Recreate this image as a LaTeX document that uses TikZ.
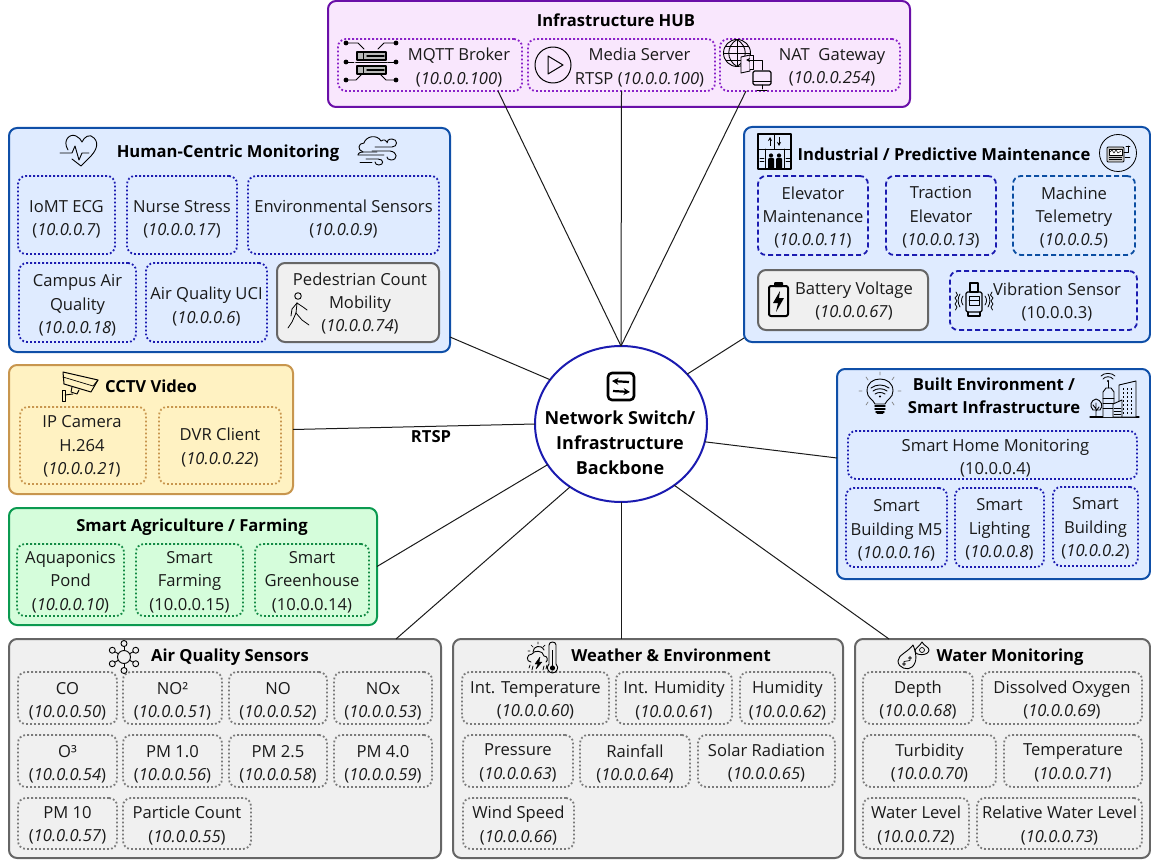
\documentclass[tikz,border=0pt]{standalone}
\usepackage{fontspec}
\setmainfont{Open Sans}
\usetikzlibrary{calc,arrows.meta,shapes.geometric}
\definecolor{purF}{HTML}{F9E7FD}\definecolor{purD}{HTML}{6A0FA8}\definecolor{purS}{HTML}{8A22C8}
\definecolor{bluF}{HTML}{DFEBFF}\definecolor{bluD}{HTML}{0F4FA8}\definecolor{bluS}{HTML}{1B1BB0}\definecolor{bluT}{HTML}{0B4EA2}
\definecolor{gryF}{HTML}{F0F0F0}\definecolor{gryD}{HTML}{666666}\definecolor{gryS}{HTML}{7A7A7A}
\definecolor{yelF}{HTML}{FFF2C2}\definecolor{yelD}{HTML}{C8964E}
\definecolor{grnF}{HTML}{D5FDDB}\definecolor{grnD}{HTML}{0B9A50}\definecolor{grnS}{HTML}{128A44}
\definecolor{ink}{HTML}{1A1A1A}
\tikzset{
 x=1pt,y=-1pt,
 area/.style={rectangle,rounded corners=8pt,inner sep=0pt,outer sep=0pt,line width=2pt},
 unit/.style={rectangle,rounded corners=8pt,inner sep=0pt,outer sep=0pt},
 dots/.style={unit,line width=1.8pt,dash pattern=on 1.8pt off 2.2pt},
 dashes/.style={unit,line width=1.8pt,dash pattern=on 5pt off 3pt},
 solidgray/.style={unit,line width=2pt,draw=gryD,fill=gryF},
 txt/.style={align=center,inner sep=0pt,text=ink,font=\fontsize{16.6}{23.3}\selectfont},
 ttl/.style={align=center,inner sep=0pt,text=black,font=\fontsize{16.6}{23.3}\selectfont\bfseries},
 link/.style={draw=ink,line width=1pt},
 ic/.style={draw=black,line width=.9pt,line join=round,line cap=round},
}
\newcommand{\ip}[1]{(\textit{#1})}
\newcommand{\boxnode}[6]{%
 \pgfmathsetmacro\bw{#5-#3}\pgfmathsetmacro\bh{#6-#4}%
 \node[#1,minimum width=\bw pt,minimum height=\bh pt] (#2) at ({(#3+#5)/2},{(#4+#6)/2}) {};}
\newcommand{\subbox}[9]{%
 \boxnode{#1}{#2}{#3}{#4}{#5}{#6}%
 \node[txt] (#2t) at ($(#2.center)+(#7,#8+2)$) {#9};}
\begin{document}
\begin{tikzpicture}
\useasboundingbox (0,0) rectangle (1151,861);
% ---------- areas
\boxnode{area,draw=purD,fill=purF}{hub}{328}{1}{910}{107}
\boxnode{area,draw=bluD,fill=bluF}{human}{9}{128}{450}{352}
\boxnode{area,draw=bluD,fill=bluF}{industrial}{744}{127}{1150}{342}
\boxnode{area,draw=bluD,fill=bluF}{built}{837}{369}{1150}{579}
\boxnode{area,draw=yelD,fill=yelF}{cctv}{9}{365}{293}{494}
\boxnode{area,draw=grnD,fill=grnF}{agri}{9}{508}{377}{625}
\boxnode{area,draw=gryD,fill=gryF}{air}{9}{639}{441}{858}
\boxnode{area,draw=gryD,fill=gryF}{weather}{453}{639}{843}{858}
\boxnode{area,draw=gryD,fill=gryF}{water}{855}{639}{1150}{858}
% ---------- titles
\node[ttl] (hubT) at (616,20) {Infrastructure HUB};
\node[ttl] (humanT) at (228,153) {Human-Centric Monitoring};
\node[ttl] (industrialT) at (944,154) {Industrial / Predictive Maintenance};
\node[ttl] (builtT) at (994,396) {Built Environment /\\Smart Infrastructure};
\node[ttl] (cctvT) at (151,386) {CCTV Video};
\node[ttl] (agriT) at (192,527) {Smart Agriculture / Farming};
\node[ttl] (airT) at (230,657) {Air Quality Sensors};
\node[ttl] (weatherT) at (671,655) {Weather \& Environment};
\node[ttl] (waterT) at (1010,657) {Water Monitoring};
% ---------- hub
\subbox{dots,draw=purS}{mqtt}{338}{39}{522}{91}{29}{0.5}{MQTT Broker\\\ip{10.0.0.100}}
\subbox{dots,draw=purS}{media}{528}{39}{715}{91}{18}{0.5}{Media Server\\RTSP \ip{10.0.0.100}}
\subbox{dots,draw=purS}{nat}{720}{39}{900}{91}{22}{0.5}{NAT\ \ Gateway\\\ip{10.0.0.254}}
% ---------- human
\subbox{dots,draw=bluS}{ecg}{18}{176}{115}{254}{0}{2}{IoMT ECG\\\ip{10.0.0.7}}
\subbox{dots,draw=bluS}{nurse}{127}{176}{237}{254}{0}{2}{Nurse Stress\\\ip{10.0.0.17}}
\subbox{dots,draw=bluS}{envs}{248}{176}{439}{254}{0}{2}{Environmental Sensors\\\ip{10.0.0.9}}
\subbox{dots,draw=bluS}{campus}{19}{263}{136}{342}{0}{1}{Campus Air\\Quality\\\ip{10.0.0.18}}
\subbox{dots,draw=bluS}{uci}{146}{263}{267}{342}{0}{2}{Air Quality UCI\\\ip{10.0.0.6}}
\subbox{solidgray}{pedestrian}{277}{263}{439}{342}{2}{-1}{Pedestrian Count\\Mobility\\\ip{10.0.0.74}}
% ---------- industrial
\subbox{dashes,draw=bluS}{elevator}{758}{176}{868}{255}{0}{0}{Elevator\\Maintenance\\\ip{10.0.0.11}}
\subbox{dashes,draw=bluS}{traction}{886}{176}{996}{255}{0}{0}{Traction\\Elevator\\\ip{10.0.0.13}}
\subbox{dashes,draw=bluT}{machine}{1013}{176}{1135}{255}{0}{0}{Machine\\Telemetry\\\ip{10.0.0.5}}
\subbox{solidgray}{battery}{758}{270}{928}{330}{11}{-1}{Battery Voltage\\\ip{10.0.0.67}}
\subbox{dashes,draw=bluS}{vibration}{950}{271}{1137}{330}{13.5}{-0.5}{Vibration Sensor\\(10.0.0.3)}
% ---------- built
\subbox{dots,draw=bluS}{home}{848}{431}{1137}{479}{3}{1}{Smart Home Monitoring\\(10.0.0.4)}
\subbox{dots,draw=bluS}{m5}{846}{488}{947}{567}{0}{1}{Smart\\Building M5\\\ip{10.0.0.16}}
\subbox{dots,draw=bluS}{lighting}{955}{488}{1044}{567}{0}{0}{Smart\\Lighting\\\ip{10.0.0.8}}
\subbox{dots,draw=bluS}{building}{1053}{487}{1138}{566}{0}{0}{Smart\\Building\\\ip{10.0.0.2}}
% ---------- cctv
\subbox{dots,draw=yelD}{ipcam}{20}{407}{146}{484}{-1}{-1}{IP Camera\\H.264\\\ip{10.0.0.21}}
\subbox{dots,draw=yelD}{dvr}{159}{407}{281}{484}{0}{0}{DVR Client\\\ip{10.0.0.22}}
% ---------- agri
\subbox{dots,draw=grnS}{pond}{17}{544}{124}{616}{0}{0}{Aquaponics\\Pond\\\ip{10.0.0.10}}
\subbox{dots,draw=grnS}{farming}{136}{544}{243}{616}{0}{0}{Smart\\Farming\\(10.0.0.15)}
\subbox{dots,draw=grnS}{greenhouse}{255}{544}{369}{616}{0}{0}{Smart\\Greenhouse\\(10.0.0.14)}
% ---------- air
\subbox{dots,draw=gryS}{co}{18}{672}{117}{724}{0}{1}{CO\\\ip{10.0.0.50}}
\subbox{dots,draw=gryS}{notwo}{123}{672}{222}{724}{0}{1}{NO²\\\ip{10.0.0.51}}
\subbox{dots,draw=gryS}{no}{229}{672}{327}{724}{0}{1}{NO\\\ip{10.0.0.52}}
\subbox{dots,draw=gryS}{nox}{334}{672}{432}{724}{0}{1}{NOx\\\ip{10.0.0.53}}
\subbox{dots,draw=gryS}{othree}{18}{735}{117}{787}{0}{1}{O³\\\ip{10.0.0.54}}
\subbox{dots,draw=gryS}{pmone}{123}{735}{222}{787}{0}{1}{PM 1.0\\\ip{10.0.0.56}}
\subbox{dots,draw=gryS}{pmtwo}{229}{735}{327}{787}{0}{1}{PM 2.5\\\ip{10.0.0.58}}
\subbox{dots,draw=gryS}{pmfour}{334}{735}{432}{787}{0}{1}{PM 4.0\\\ip{10.0.0.59}}
\subbox{dots,draw=gryS}{pmten}{18}{798}{117}{849}{0}{0}{PM 10\\\ip{10.0.0.57}}
\subbox{dots,draw=gryS}{particle}{123}{798}{251}{849}{0}{0}{Particle Count\\\ip{10.0.0.55}}
% ---------- weather
\subbox{dots,draw=gryS}{inttemp}{462}{672}{609}{724}{0}{0.5}{Int. Temperature\\\ip{10.0.0.60}}
\subbox{dots,draw=gryS}{inthum}{616}{672}{732}{724}{0}{0.5}{Int. Humidity\\\ip{10.0.0.61}}
\subbox{dots,draw=gryS}{humidity}{740}{672}{835}{724}{0}{0.5}{Humidity\\\ip{10.0.0.62}}
\subbox{dots,draw=gryS}{pressure}{463}{735}{573}{787}{0}{0}{Pressure\\\ip{10.0.0.63}}
\subbox{dots,draw=gryS}{rainfall}{580}{735}{690}{787}{0}{1}{Rainfall\\\ip{10.0.0.64}}
\subbox{dots,draw=gryS}{solar}{698}{735}{835}{787}{0}{0}{Solar Radiation\\\ip{10.0.0.65}}
\subbox{dots,draw=gryS}{wind}{463}{798}{574}{849}{0}{0}{Wind Speed\\\ip{10.0.0.66}}
% ---------- water
\subbox{dots,draw=gryS}{depth}{863}{672}{973}{724}{0}{0}{Depth\\\ip{10.0.0.68}}
\subbox{dots,draw=gryS}{oxygen}{982}{672}{1142}{724}{0}{0}{Dissolved Oxygen\\\ip{10.0.0.69}}
\subbox{dots,draw=gryS}{turbidity}{863}{735}{996}{787}{0}{0}{Turbidity\\\ip{10.0.0.70}}
\subbox{dots,draw=gryS}{temperature}{1004}{735}{1142}{787}{0}{0}{Temperature\\\ip{10.0.0.71}}
\subbox{dots,draw=gryS}{level}{863}{798}{969}{849}{0}{0}{Water Level\\\ip{10.0.0.72}}
\subbox{dots,draw=gryS}{relative}{977}{798}{1142}{849}{0}{0}{Relative Water Level\\\ip{10.0.0.73}}
% ---------- switch
\node[ellipse,draw=bluS,fill=white,line width=2pt,inner sep=0pt,outer sep=0pt,minimum width=172pt,minimum height=156pt] (switch) at (621,424) {};
\node[ttl,font=\fontsize{18}{25}\selectfont\bfseries] (switchT) at (620,443) {Network Switch/\\Infrastructure\\Backbone};
% ---------- connectors
\draw[link] (498,0 |- mqtt.south) -- (switch.north);
\draw[link] (media.south) -- (switch.north);
\draw[link] (746,0 |- nat.south) -- (switch.north);
\draw[link] (human.east |- 0,337) -- (switch.148);
\draw[link] (industrial.west |- 0,338) -- (switch.37);
\draw[link] (built.west |- 0,458) -- (switch.-12.5);
\draw[link] (889,0 |- water.north) -- (switch.-49);
\draw[link] (621,0 |- weather.north) -- (switch.south);
\draw[link] (396,0 |- air.north) -- (switch.231.5);
\draw[link] (agri.east) -- (switch.209.6);
\draw[link] (cctv.east) -- (switch.west);
\node[ttl] (rtsp) at (431,437) {RTSP};
% ---------- icons
% switch
\draw[ic,line width=2.6pt,rounded corners=4pt] (608,373) rectangle (634,400);
\draw[line width=2.2pt,-{Stealth[length=6.5pt,width=7pt]}] (629,382) -- (612,381);
\draw[line width=2.2pt,-{Stealth[length=6.5pt,width=7pt]}] (613,391) -- (630,392);
% mqtt
\foreach \p in {(346,43),(396,43),(346,62),(396,62),(346,80),(396,80)} \fill \p circle[radius=2.4];
\draw[ic] (346,43)--(358,43)--(364,49); \draw[ic] (396,43)--(384,43)--(378,49);
\draw[ic] (346,80)--(356,80)--(362,74); \draw[ic] (396,80)--(386,80)--(380,74);
\draw[ic] (346,62)--(354,62); \draw[ic] (388,62)--(396,62);
\draw[ic,fill=gray!55,line width=1.1pt] (357,52) rectangle (386,60);
\draw[ic,fill=gray!55,line width=1.1pt] (357,66) rectangle (386,74);
\draw[ic,line width=1.6pt] (356,62.5)--(387,62.5);
\draw[ic] (363,53)--(363,59); \draw[ic] (363,67)--(363,73);
\draw[ic,line width=1.4pt] (367,56)--(384,56); \draw[ic,line width=1.4pt] (367,70)--(384,70);
% play
\draw[ic,line width=1pt] (553,65) circle[radius=18];
\draw[ic,line width=1pt] (548,56) -- (563,65) -- (548,74) -- cycle;
% nat
\draw[ic] (737,53) circle[radius=13.5];
\draw[ic] (724,53)--(750,53) (726,46)--(748,46) (726,60)--(748,60) (737,39.5)--(737,66.5);
\draw[ic] (737,39.5) .. controls (726,46) and (726,60) .. (737,66.5);
\draw[ic] (737,39.5) .. controls (748,46) and (748,60) .. (737,66.5);
\draw[ic,fill=purF] (741,57) -- (750,55) -- (750,71) -- (741,73) -- cycle;
\draw[ic,fill=purF] (750,55) -- (753,55) -- (753,69) -- (750,69);
\draw[ic,-{Stealth[length=4pt,width=4pt]}] (762,70) -- (762,60) -- (746,60);
\draw[ic,rounded corners=1.5pt,fill=purF,line width=1.1pt] (753,71) rectangle (771,85);
\draw[ic] (753,81)--(771,81) (762,85)--(762,89) (757,90)--(767,90);
% heart
\draw[ic] (68,150) .. controls (62,140) and (70,133) .. (76,136) .. controls (79,137) and (81,140) .. (82,142) .. controls (84,137) and (90,133) .. (94,138) .. controls (100,144) and (95,152) .. (90,157) -- (81,166) -- (72,159);
\draw[ic] (60,153) -- (72,153) -- (75,146) -- (79,160) -- (82,153) -- (89,153);
% cloud wind
\draw[ic] (363,152) .. controls (357,150) and (358,143) .. (364,143) .. controls (366,136) and (377,134) .. (381,141) .. controls (384,139) and (386,140) .. (387,142);
\draw[ic] (358,155) .. controls (358,155) and (358,152) .. (363,152) -- (377,152);
\draw[ic] (375,147)--(392,147) .. controls (398,147) and (398,139) .. (392,139) .. controls (388,139) and (387,141) .. (387,143);
\draw[ic] (372,151)--(390,151) .. controls (398,152) and (398,160) .. (391,160) .. controls (388,160) and (387,158) .. (387,157);
\draw[ic] (358,155)--(384,155) (366,159)--(378,159) .. controls (384,159) and (384,165) .. (379,165) .. controls (377,165) and (375,164) .. (375,162);
\draw[ic] (360,162)--(372,162);
% walker
\draw[ic] (298,296) circle[radius=3.3];
\begin{scope}[line width=.8pt,double=gryF,double distance=2.8pt,line cap=round,line join=round]
\draw (296,313) -- (292,322) -- (288,328);
\draw (297,303) -- (292,309) -- (291,316);
\draw (296,313) -- (302,320) -- (309,325);
\draw (297,303) -- (303,307) -- (307,310);
\draw (297,303) -- (296,313);
\end{scope}
% elevator
\draw[ic,line width=1.2pt] (758,134) rectangle (791,169);
\draw[ic] (758,149)--(791,149) (765,149)--(765,169) (784,149)--(784,169) (774.5,134)--(774.5,149);
\draw[line width=1pt,-{Stealth[length=4pt,width=4pt]}] (770,146)--(770,137);
\draw[line width=1pt,-{Stealth[length=4pt,width=4pt]}] (779,137)--(779,146);
\foreach \q in {771,779}{\fill (\q,155.5) circle[radius=2.1]; \fill[rounded corners=1pt] (\q-3,158) rectangle (\q+3,169);}
\draw[ic] (760,158)--(764,158) (760,161)--(764,161) (786,158)--(790,158) (786,161)--(790,161);
% machine
\draw[ic,line width=.8pt] (1118,153) circle[radius=18.5];
\draw[ic,fill=gray!45,rounded corners=1pt] (1107,147) rectangle (1124,162);
\draw[ic,fill=white,line width=.5pt] (1109,149) rectangle (1122,155);
\draw[line width=.5pt] (1110,152)--(1112,150)--(1114,153)--(1116,150)--(1118,153)--(1121,151);
\draw[line width=.7pt] (1109,157)--(1122,157) (1109,159.5)--(1122,159.5);
\draw[ic,line width=.8pt] (1124,152)--(1128,152)--(1128,146) (1126,146)--(1130,146) (1125,157)--(1130,157);
% battery
\fill[rounded corners=1pt] (774,282) rectangle (783,287);
\draw[ic,line width=2pt,rounded corners=2pt] (769,286) rectangle (788,316);
\fill (780,291)--(773,303)--(778,303)--(776,312)--(784,298)--(779,298)--cycle;
% vibration
\draw[ic,line width=1.1pt] (970,283) rectangle (978,292);
\draw[ic,line width=1.1pt,rounded corners=1.5pt] (966,292) rectangle (982,312);
\draw[ic,line width=1pt] (969,296) rectangle (979,305) (969,300)--(979,300);
\draw[ic,line width=1.2pt] (968,312)--(968,316)--(980,316)--(980,312);
\foreach \s in {1,-1}{
 \draw[ic,line width=.8pt] ({974+\s*11},296) .. controls ({974+\s*13},299) and ({974+\s*13},302) .. ({974+\s*11},305);
 \draw[ic,line width=.8pt] ({974+\s*14},294) .. controls ({974+\s*16.5},298) and ({974+\s*16.5},303) .. ({974+\s*14},307);
 \draw[ic,line width=.8pt] ({974+\s*18},292) -- ({974+\s*16.5},295) -- ({974+\s*19},298) -- ({974+\s*17},301) -- ({974+\s*19},304) -- ({974+\s*17},307) -- ({974+\s*18.5},310);
}
% bulb
\draw[ic] (875,404) .. controls (873,399) and (867,398) .. (867,391) .. controls (867,383) and (873,379) .. (880,379) .. controls (887,379) and (893,383) .. (893,391) .. controls (893,398) and (887,399) .. (885,404) -- cycle;
\draw[ic] (871,388) .. controls (876,384) and (884,384) .. (889,388);
\draw[ic] (873,391) .. controls (877,388) and (883,388) .. (887,391);
\draw[ic] (875,394) .. controls (878,392) and (882,392) .. (885,394);
\fill (880,396.5) circle[radius=1.2];
\draw[ic,line width=1.4pt] (875,406)--(885,406) (875,409)--(885,409) (876,412)--(884,412);
\draw[ic,line width=.8pt] (877,413.5)--(883,413.5);
\draw[ic,line width=.7pt,gray] (880,375)--(880,372) (868,380)--(866,377) (892,380)--(894,377) (862,391)--(859,391) (898,391)--(901,391) (868,402)--(866,405) (892,402)--(894,405);
% city
\draw[ic,line width=1.2pt] (1090,417)--(1139,417);
\draw[ic,fill=bluF] (1119,385) -- (1136,381) -- (1136,417) -- (1119,417) -- cycle;
\foreach \a in {1122.5,1126.5,1130.5}\foreach \b in {388,392,396,400,404,408,412}\fill (\a,\b) rectangle ++(1.7,1.7);
\draw[ic,fill=bluF] (1103,417) -- (1103,392) -- (1106,388) -- (1111,388) -- (1114,392) -- (1114,417);
\draw[ic] (1103,398)--(1114,398) (1103,403)--(1114,403) (1103,408)--(1114,408);
\draw[ic,fill=bluF] (1113,404) -- (1122,400) -- (1122,417) -- (1113,417) -- cycle;
\draw[ic] (1114,408)--(1121,408) (1114,411)--(1121,411) (1114,414)--(1121,414);
\draw[ic] (1108,388)--(1108,381);
\fill (1108,381) circle[radius=1.2];
\draw[ic,line width=.8pt] (1103,379) .. controls (1105,376) and (1111,376) .. (1113,379);
\draw[ic,line width=.8pt] (1101,376) .. controls (1104,372.5) and (1112,372.5) .. (1115,376);
\draw[ic,fill=bluF] (1093,410) .. controls (1089,406) and (1091,400) .. (1096,399) .. controls (1101,400) and (1104,406) .. (1100,410) -- cycle;
\draw[ic] (1096,403)--(1096,417) (1096,409)--(1093,405) (1096,411)--(1099,407);
% camera
\draw[ic,line width=1pt,fill=yelF] (63,372) -- (98,380) -- (91,392) -- (64,384) -- cycle;
\draw[ic,line width=.7pt] (63,377) -- (93,386) -- (98,380);
\draw[ic] (72,387) -- (71,392) -- (77,394) -- (79,390);
\draw[ic,line width=1pt] (62,390) rectangle (65,401);
\draw[ic] (65,395) -- (73,394);
% molecule
\draw[ic] (124,657) circle[radius=6.5];
\foreach \ang in {90,30,-30,-90,-150,150}{
 \draw[ic] ($(124,657)+({6.5*cos(\ang)},{6.5*sin(\ang)})$) -- ($(124,657)+({10.5*cos(\ang)},{10.5*sin(\ang)})$);
 \draw[ic] ($(124,657)+({13.5*cos(\ang)},{13.5*sin(\ang)})$) circle[radius=3];
}
% weather
\draw[ic] (549,664) -- (549,645) .. controls (549,641) and (556,641) .. (556,645) -- (556,664) .. controls (560,668) and (556,673) .. (552.5,673) .. controls (549,673) and (545,668) .. (549,664) -- cycle;
\fill (552.5,668) circle[radius=2.6];
\draw[line width=1.6pt] (552.5,650)--(552.5,666);
\draw[ic] (533,652) .. controls (533,646) and (541,644) .. (544,650);
\draw[ic,line width=.7pt] (538,642)--(538,644) (531,645)--(533,647) (545,645)--(543,647) (528,651)--(530,651);
\draw[ic] (531,662) .. controls (526,662) and (526,654) .. (532,654) .. controls (534,650) and (543,650) .. (544,656) .. controls (548,656) and (548,661) .. (546,662);
\draw[ic,fill=black,line width=.4pt] (540,657)--(535,664)--(538,664)--(536,669)--(542,662)--(539,662)--cycle;
\draw[ic,line width=.8pt] (530,665)--(529,668) (533,666)--(532,670) (544,666)--(543,670) (547,665)--(546,669);
% water drops
\draw[ic] (913,645) .. controls (908,652) and (898,655) .. (898,661) .. controls (898,668) and (908,671) .. (912,667) .. controls (918,662) and (916,652) .. (913,645) -- cycle;
\draw[ic] (922,642) .. controls (920,646) and (915,648) .. (915,651) .. controls (915,656) and (929,656) .. (929,650) .. controls (929,647) and (924,646) .. (922,642) -- cycle;
\draw[ic,line width=.7pt] (922,650) circle[radius=2.5];
\draw[ic,line width=.7pt] (904,664) circle[radius=1.3] (910,658) circle[radius=1.3] (904,661.5)--(910,660.5);
\end{tikzpicture}
\end{document}
